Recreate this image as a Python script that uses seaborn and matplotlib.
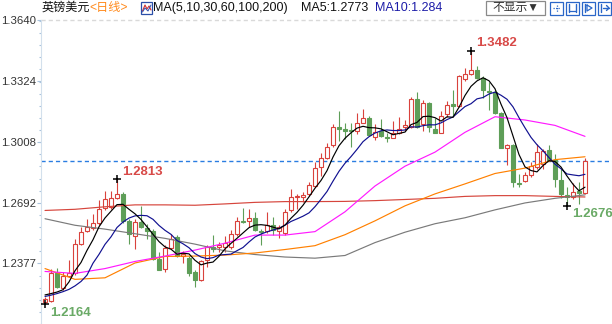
import numpy as np
import pandas as pd
import matplotlib
matplotlib.use("Agg")
import matplotlib.pyplot as plt
from matplotlib.patches import Rectangle
from matplotlib.lines import Line2D
import seaborn as sns

# ---- daily GBP/USD candles ----
opens = [1.2175, 1.2182, 1.2325, 1.2251, 1.2311, 1.2325, 1.2480, 1.2543, 1.2562, 1.2588,
         1.2663, 1.2671, 1.2717, 1.2740, 1.2596, 1.2521, 1.2593, 1.2562, 1.2547, 1.2402,
         1.2350, 1.2456, 1.2516, 1.2417, 1.2407, 1.2330, 1.2289, 1.2397, 1.2462, 1.2464,
         1.2464, 1.2464, 1.2531, 1.2598, 1.2596, 1.2611, 1.2547, 1.2543, 1.2574, 1.2543,
         1.2536, 1.2652, 1.2721, 1.2722, 1.2738, 1.2781, 1.2876, 1.2927, 1.2991, 1.3087,
         1.3074, 1.3070, 1.3065, 1.3108, 1.3134, 1.3036, 1.3065, 1.3036, 1.3031, 1.3057,
         1.3087, 1.3087, 1.3232, 1.3099, 1.3208, 1.3077, 1.3057, 1.3151, 1.3203, 1.3197,
         1.3335, 1.3363, 1.3380, 1.3340, 1.3275, 1.3266, 1.3156, 1.2979, 1.2991, 1.2795,
         1.2806, 1.2836, 1.2876, 1.2893, 1.2967, 1.2915, 1.2812, 1.2730, 1.2722, 1.2752,
         1.2745]
highs = [1.2200, 1.2350, 1.2354, 1.2333, 1.2392, 1.2506, 1.2566, 1.2609, 1.2634, 1.2707,
         1.2753, 1.2753, 1.2813, 1.2748, 1.2609, 1.2609, 1.2677, 1.2583, 1.2557, 1.2438,
         1.2471, 1.2531, 1.2526, 1.2443, 1.2417, 1.2340, 1.2393, 1.2471, 1.2526, 1.2490,
         1.2521, 1.2548, 1.2619, 1.2666, 1.2660, 1.2645, 1.2557, 1.2645, 1.2619, 1.2578,
         1.2660, 1.2764, 1.2738, 1.2750, 1.2801, 1.2902, 1.2953, 1.3005, 1.3099, 1.3168,
         1.3108, 1.3108, 1.3160, 1.3180, 1.3141, 1.3099, 1.3129, 1.3057, 1.3117, 1.3139,
         1.3122, 1.3242, 1.3266, 1.3228, 1.3215, 1.3134, 1.3168, 1.3220, 1.3280, 1.3357,
         1.3392, 1.3482, 1.3401, 1.3349, 1.3318, 1.3280, 1.3161, 1.2996, 1.2996, 1.2841,
         1.2850, 1.2905, 1.2996, 1.2970, 1.2991, 1.2944, 1.2867, 1.2774, 1.2795, 1.2798,
         1.2922]
lows = [1.2164, 1.2175, 1.2247, 1.2238, 1.2304, 1.2315, 1.2471, 1.2540, 1.2552, 1.2578,
        1.2656, 1.2660, 1.2710, 1.2588, 1.2480, 1.2454, 1.2562, 1.2506, 1.2397, 1.2340,
        1.2333, 1.2454, 1.2412, 1.2381, 1.2314, 1.2252, 1.2283, 1.2359, 1.2438, 1.2438,
        1.2438, 1.2454, 1.2521, 1.2588, 1.2566, 1.2543, 1.2474, 1.2536, 1.2522, 1.2510,
        1.2522, 1.2646, 1.2660, 1.2698, 1.2729, 1.2772, 1.2832, 1.2919, 1.2984, 1.3013,
        1.3022, 1.2984, 1.3048, 1.3104, 1.3039, 1.3018, 1.3036, 1.3006, 1.3026, 1.3048,
        1.3065, 1.3082, 1.3082, 1.3065, 1.3060, 1.3053, 1.3053, 1.3139, 1.3142, 1.3187,
        1.3323, 1.3358, 1.3335, 1.3237, 1.3173, 1.3151, 1.2975, 1.2887, 1.2772, 1.2772,
        1.2798, 1.2824, 1.2867, 1.2867, 1.2910, 1.2772, 1.2716, 1.2676, 1.2712, 1.2686,
        1.2738]
closes = [1.2190, 1.2325, 1.2252, 1.2311, 1.2325, 1.2480, 1.2540, 1.2567, 1.2588, 1.2660,
          1.2710, 1.2715, 1.2738, 1.2596, 1.2531, 1.2593, 1.2567, 1.2547, 1.2402, 1.2342,
          1.2456, 1.2506, 1.2417, 1.2428, 1.2325, 1.2289, 1.2388, 1.2463, 1.2454, 1.2475,
          1.2482, 1.2531, 1.2595, 1.2593, 1.2612, 1.2548, 1.2542, 1.2577, 1.2548, 1.2566,
          1.2646, 1.2721, 1.2729, 1.2733, 1.2784, 1.2871, 1.2922, 1.2984, 1.3087, 1.3077,
          1.3065, 1.3065, 1.3105, 1.3134, 1.3042, 1.3060, 1.3039, 1.3029, 1.3057, 1.3077,
          1.3094, 1.3232, 1.3087, 1.3208, 1.3087, 1.3057, 1.3142, 1.3199, 1.3194, 1.3349,
          1.3363, 1.3380, 1.3340, 1.3276, 1.3270, 1.3156, 1.2979, 1.2991, 1.2798, 1.2788,
          1.2836, 1.2884, 1.2956, 1.2962, 1.2915, 1.2815, 1.2740, 1.2722, 1.2748, 1.2745,
          1.2910]

# first values of the short averages (window reaches back before the first candle)
ma5_head = [1.2213, 1.2220, 1.2228, 1.2240]
ma10_head = [1.2205, 1.2212, 1.2220, 1.2230, 1.2242, 1.2260, 1.2283, 1.2316, 1.2378]

# longer averages, every 5th session
slow_idx = list(range(0, 91, 5))
ma30 = [1.2335, 1.2325, 1.2350, 1.2387, 1.2415, 1.2446, 1.2482, 1.2524, 1.2524, 1.2542,
        1.2645, 1.2779, 1.2882, 1.2955, 1.3058, 1.3139, 1.3122, 1.3094, 1.3037]
ma60 = [1.2350, 1.2294, 1.2302, 1.2379, 1.2413, 1.2415, 1.2420, 1.2431, 1.2449, 1.2469,
        1.2526, 1.2598, 1.2676, 1.2738, 1.2790, 1.2844, 1.2872, 1.2916, 1.2931]
ma100 = [1.2609, 1.2575, 1.2555, 1.2531, 1.2507, 1.2477, 1.2442, 1.2423, 1.2410, 1.2404,
         1.2418, 1.2485, 1.2539, 1.2583, 1.2614, 1.2655, 1.2691, 1.2715, 1.2733]
ma200 = [1.2652, 1.2658, 1.2671, 1.2681, 1.2681, 1.2679, 1.2686, 1.2694, 1.2698, 1.2698,
         1.2699, 1.2703, 1.2709, 1.2715, 1.2725, 1.2729, 1.2729, 1.2725, 1.2722]

peak_idx = [12, 71]
trough_idx = [0, 87]

ytick_vals = [1.2377, 1.2692, 1.3008, 1.3324, 1.3640]
y_min, y_max = 1.2072, 1.3640

# ---- style ----
sns.set_style("white")
plt.rcParams["font.family"] = ["Liberation Sans", "Noto Sans CJK SC", "DejaVu Sans"]

UP = "#d9423c"
DOWN = "#5e9e58"

W, H = 612, 324
fig = plt.figure(figsize=(W / 100, H / 100), dpi=100)
ax = fig.add_axes([41 / W, 0, (W - 41) / W, (H - 20.3) / H])


def fx(x):
    return x / W


def fy(y):
    return 1 - y / H


o = np.array(opens)
h = np.array(highs)
l = np.array(lows)
c = np.array(closes)
n = len(c)
idx = np.arange(n)
up = c >= o

# candles: wicks then bodies
wick_cols = np.where(up, UP, DOWN)
ax.vlines(idx, l, h, colors=wick_cols, linewidth=0.8, zorder=2)
body_bot = np.minimum(o, c)
body_h = np.maximum(np.abs(c - o), 0.00012)
ax.bar(idx, body_h, bottom=body_bot, width=0.64,
       color=np.where(up, "white", DOWN), edgecolor=wick_cols,
       linewidth=0.8, zorder=3)

# moving averages
cs = pd.Series(closes)
ma5 = cs.rolling(5).mean().to_numpy()
ma5[:len(ma5_head)] = ma5_head
ma10 = cs.rolling(10).mean().to_numpy()
ma10[:len(ma10_head)] = ma10_head

for vals, x, col in [(ma200, slow_idx, "#d6453c"), (ma100, slow_idx, "#7a7a7a"),
                     (ma60, slow_idx, "#ff8000"), (ma30, slow_idx, "#ff1aff"),
                     (ma10, idx, "#101090"), (ma5, idx, "#000000")]:
    sns.lineplot(x=np.asarray(x), y=np.asarray(vals), color=col, linewidth=0.85,
                 ax=ax, zorder=4, legend=False)

# last price line and top grid
ax.axhline(c[-1], color="#2a7de1", linewidth=1.0, linestyle=(0, (3, 2.2)), zorder=1)
ax.axhline(y_max, color="#d9d9d9", linewidth=1.0, linestyle=(0, (3, 2.2)), zorder=1,
           clip_on=False)

# extreme markers
for i in peak_idx:
    ax.plot(i, h[i], marker="+", color="black", ms=6, mew=1.1, zorder=5)
    ax.annotate(f"{h[i]:.4f}", (i, h[i]), xytext=(4, 5.5), textcoords="offset points",
                ha="left", va="center", color="#d84a48", fontsize=9.5,
                fontweight="bold", zorder=6)
for i in trough_idx:
    ax.plot(i, l[i], marker="+", color="black", ms=6, mew=1.1, zorder=5)
    ax.annotate(f"{l[i]:.4f}", (i, l[i]), xytext=(4, -6), textcoords="offset points",
                ha="left", va="center", color="#6aaa66", fontsize=9.5,
                fontweight="bold", zorder=6)

ax.set_xlim(-0.667, 94.5)
ax.set_ylim(y_min, y_max)
ax.set_xticks([])
ax.set_yticks(ytick_vals)
ax.set_yticklabels([f"{v:.4f}" for v in ytick_vals])
step = (ytick_vals[1] - ytick_vals[0]) / 5
minor = np.arange(ytick_vals[0] - 5 * step, y_max + 1e-9, step)
ax.set_yticks(minor, minor=True)
ax.tick_params(axis="y", which="major", length=3, width=0.8, color="#a9c3dc",
               labelsize=8.2, labelcolor="#333333", pad=0.8, left=True)
ax.tick_params(axis="y", which="minor", length=1.5, width=0.8, color="#a9c3dc", left=True)
for s in ["top", "right", "bottom"]:
    ax.spines[s].set_visible(False)
ax.spines["left"].set_color("#d3e0ec")
ax.spines["left"].set_linewidth(0.8)
ax.set_xlabel("")
ax.set_ylabel("")

# ---- header bar ----
ty = fy(8)
fig.text(fx(42), ty, "英镑美元", fontsize=8.7, color="#111111", va="center", ha="left")
fig.text(fx(89), ty, "<日线>", fontsize=8.7, color="#ff8a1c", va="center", ha="left")
fig.add_artist(Rectangle((fx(141), fy(14)), 11 / W, 12 / H, transform=fig.transFigure,
                         facecolor="white", edgecolor="#2b4fa8", linewidth=0.9))
fig.add_artist(Line2D([fx(142.5), fx(145), fx(147), fx(149), fx(151)],
                      [fy(11), fy(5), fy(9), fy(6), fy(10)], transform=fig.transFigure,
                      color="#d03030", linewidth=0.8))
fig.add_artist(Line2D([fx(142.5), fx(145), fx(148), fx(151)],
                      [fy(12), fy(8), fy(11), fy(5)], transform=fig.transFigure,
                      color="#3050b0", linewidth=0.7))
fig.text(fx(153), ty, "MA(5,10,30,60,100,200)", fontsize=9, color="#111111",
         va="center", ha="left")
fig.text(fx(301), ty, f"MA5:{ma5[-1]:.4f}", fontsize=9, color="#111111",
         va="center", ha="left")
fig.text(fx(375), ty, f"MA10:{ma10[-1]:.4g}", fontsize=9, color="#1c1ca8",
         va="center", ha="left")

# toolbar on the right
fig.add_artist(Rectangle((fx(486), fy(15)), 59 / W, 14 / H, transform=fig.transFigure,
                         facecolor="white", edgecolor="#8a8a8a", linewidth=0.9))
fig.text(fx(515.5), fy(8), "不显示▼", fontsize=8.5, color="#333333", va="center", ha="center")
btn_blue = "#2a66c8"
for bx in [550, 566, 582, 598]:
    fig.add_artist(Rectangle((fx(bx), fy(14.5)), 13 / W, 13 / H, transform=fig.transFigure,
                             facecolor="white", edgecolor=btn_blue, linewidth=0.9))
# crosshair
fig.add_artist(Line2D([fx(553), fx(560)], [fy(8), fy(8)], transform=fig.transFigure,
                      color=btn_blue, linewidth=0.9, linestyle=(0, (1, 1))))
fig.add_artist(Line2D([fx(556.5), fx(556.5)], [fy(4.5), fy(11.5)], transform=fig.transFigure,
                      color=btn_blue, linewidth=0.9, linestyle=(0, (1, 1))))
# range bars
for xs in [(569, 569), (576, 576)]:
    fig.add_artist(Line2D([fx(xs[0]), fx(xs[1])], [fy(4), fy(12)], transform=fig.transFigure,
                          color=btn_blue, linewidth=1.0))
fig.add_artist(Line2D([fx(569), fx(576)], [fy(11), fy(11)], transform=fig.transFigure,
                      color=btn_blue, linewidth=0.9))
# play marker
fig.add_artist(Line2D([fx(585), fx(585)], [fy(4), fy(12)], transform=fig.transFigure,
                      color=btn_blue, linewidth=1.0))
fig.add_artist(Line2D([fx(587), fx(592), fx(587), fx(587)], [fy(5), fy(8), fy(11), fy(5)],
                      transform=fig.transFigure, color=btn_blue, linewidth=0.9))
# exit arrow
fig.add_artist(Line2D([fx(601), fx(601)], [fy(4), fy(12)], transform=fig.transFigure,
                      color=btn_blue, linewidth=1.0))
fig.add_artist(Line2D([fx(603), fx(609)], [fy(8), fy(8)], transform=fig.transFigure,
                      color=btn_blue, linewidth=1.0))
fig.add_artist(Line2D([fx(606.5), fx(609), fx(606.5)], [fy(5.5), fy(8), fy(10.5)],
                      transform=fig.transFigure, color=btn_blue, linewidth=1.0))

fig.savefig("out.png", dpi=100, facecolor="white")
